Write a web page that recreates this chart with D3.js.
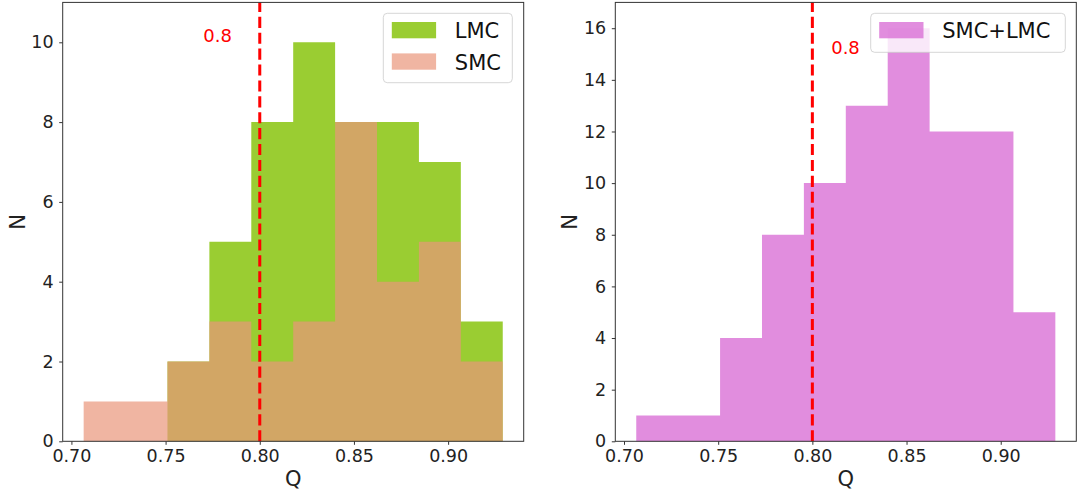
<!DOCTYPE html>
<html><head><meta charset="utf-8">
<script src="https://cdn.jsdelivr.net/npm/d3@7"></script>
<style>
html,body{margin:0;padding:0;background:#fff;}
svg{display:block;font-family:"DejaVu Sans",sans-serif;}
</style></head>
<body>
<svg id="chart" width="1078" height="495"></svg>
<script>
// ---- data ----
const binEdges = [0.7065, 0.72875, 0.751, 0.77325, 0.7955, 0.81775, 0.84, 0.86225, 0.8845, 0.90675, 0.929];
const lmcCounts = [0, 0, 2, 5, 8, 10, 8, 8, 7, 3];
const smcCounts = [1, 1, 2, 3, 2, 3, 8, 4, 5, 2];
const allCounts = [1, 1, 4, 8, 10, 13, 16, 12, 12, 5];
const xTicks = [0.70, 0.75, 0.80, 0.85, 0.90];
const yTicksLeft = [0, 2, 4, 6, 8, 10];
const yTicksRight = [0, 2, 4, 6, 8, 10, 12, 14, 16];
const refLine = 0.8;
const refLabel = "0.8";
const legendLeft = ["LMC", "SMC"];
const legendRight = ["SMC+LMC"];

const svg = d3.select("#chart");
const tickFont = "17.5px", labelFont = "21px", legendFont = "21px";

// step points: each edge with the count of the bin that starts there; last edge repeats last count
function steps(counts){
  return binEdges.map((e,i)=>({e, c: counts[Math.min(i, counts.length-1)]}));
}

const lo = binEdges[0], hi = binEdges[binEdges.length-1];
const xDom = [lo - 0.05*(hi-lo), hi + 0.05*(hi-lo)];

function panel(opts){
  const g = svg.append("g");
  const x = d3.scaleLinear().domain(xDom).range([opts.left, opts.right]);
  const y = d3.scaleLinear().domain([0, opts.ymax]).range([441.3, 2.4]);

  const area = d3.area().curve(d3.curveStepAfter)
    .x(d=>x(d.e)).y0(y(0)).y1(d=>y(d.c));

  opts.series.forEach(s=>{
    g.append("path").datum(steps(s.counts)).attr("d", area)
      .attr("fill", s.color).attr("fill-opacity", s.alpha);
  });

  // reference line
  g.append("line").attr("x1", x(refLine)).attr("x2", x(refLine))
    .attr("y1", y(0)).attr("y2", y(opts.ymax))
    .attr("stroke", "red").attr("stroke-width", 3).attr("stroke-dasharray", "11.1,4.8");
  g.append("text").attr("x", x(opts.labelPos[0])).attr("y", y(opts.labelPos[1]))
    .attr("fill", "red").style("font-size", "18px").text(refLabel);

  // frame
  g.append("rect").attr("x", opts.left).attr("y", 2.4)
    .attr("width", opts.right-opts.left).attr("height", 441.3-2.4)
    .attr("fill", "none").attr("stroke", "#333").attr("stroke-width", 1);

  const xa = g.append("g").attr("transform", `translate(0,${y(0)})`)
    .call(d3.axisBottom(x).tickValues(xTicks).tickFormat(d3.format(".2f")).tickSize(3.5).tickPadding(5.2));
  const ya = g.append("g").attr("transform", `translate(${opts.left},0)`)
    .call(d3.axisLeft(y).tickValues(opts.yticks).tickFormat(d3.format("d")).tickSize(3.5).tickPadding(5.6));
  [xa, ya].forEach(a=>{
    a.select(".domain").remove();
    a.selectAll("line").attr("stroke", "#333");
    a.selectAll("text").attr("fill", "#222").style("font-size", tickFont).style("font-family", "DejaVu Sans");
  });

  g.append("text").attr("x", (opts.left+opts.right)/2).attr("y", 486)
    .attr("text-anchor", "middle").attr("fill", "#222").style("font-size", labelFont).text("Q");
  g.append("text").attr("transform", `translate(${opts.left-38},222) rotate(-90)`)
    .attr("text-anchor", "middle").attr("fill", "#222").style("font-size", labelFont).text("N");

  // legend
  const L = opts.legend;
  g.append("rect").attr("x", L.x).attr("y", L.y).attr("width", L.w).attr("height", L.h)
    .attr("rx", 4).attr("fill", "white").attr("fill-opacity", 0.8)
    .attr("stroke", "#cccccc").attr("stroke-opacity", 0.8);
  const items = g.append("g").selectAll("g").data(L.items).join("g")
    .attr("transform", (d,i)=>`translate(${L.x+8.5},${L.y+8.7+i*31.4})`);
  items.append("rect").attr("width", 44.3).attr("height", 16.3)
    .attr("fill", d=>d.color).attr("fill-opacity", d=>d.alpha);
  items.append("text").attr("x", L.textDx).attr("y", 16.3)
    .attr("fill", "#111").style("font-size", legendFont).text(d=>d.name);
}

panel({
  left: 62.7, right: 523.7, ymax: 11, yticks: yTicksLeft, labelPos: [0.77, 10],
  series: [
    {counts: lmcCounts, color: "#9ACD32", alpha: 1},
    {counts: smcCounts, color: "#E9967A", alpha: 0.7}
  ],
  legend: {x: 383.3, y: 13.3, w: 129, h: 69.4, textDx: 63,
    items: [{name: legendLeft[0], color: "#9ACD32", alpha: 1}, {name: legendLeft[1], color: "#E9967A", alpha: 0.7}]}
});

panel({
  left: 615.3, right: 1076.3, ymax: 17, yticks: yTicksRight, labelPos: [0.81, 15],
  series: [
    {counts: allCounts, color: "#DA70D6", alpha: 0.8}
  ],
  legend: {x: 870.7, y: 13.3, w: 194.6, h: 39, textDx: 63,
    items: [{name: legendRight[0], color: "#DA70D6", alpha: 0.8}]}
});
</script>
</body></html>
